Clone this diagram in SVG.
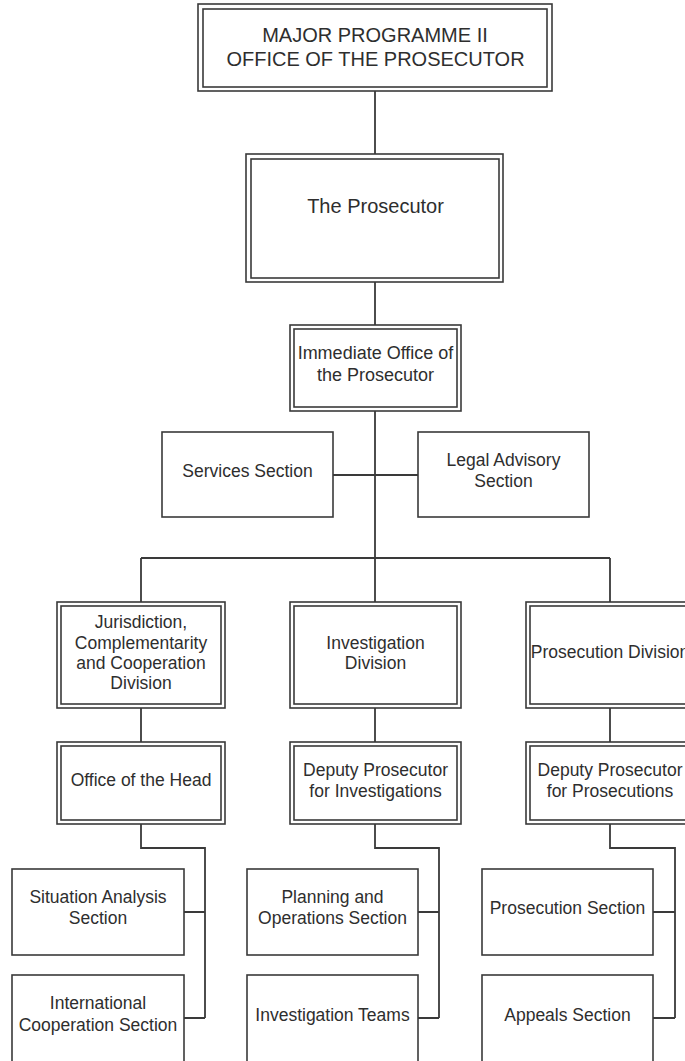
<svg xmlns="http://www.w3.org/2000/svg" width="685" height="1061" viewBox="0 0 685 1061">
<style>
.b{fill:#fff;stroke:#3a3a3a;stroke-width:1.6}
.c{fill:none;stroke:#3a3a3a;stroke-width:1.8}
text{font-family:"Liberation Sans",Arial,sans-serif;fill:#2e2e2e;text-anchor:middle;font-size:17.5px}
.t{font-size:20px}
</style>
<rect width="685" height="1061" fill="#fff"/>
<g id="connectors" class="c">
<path d="M375 91V154M375 282V325M375 411V602M333 475H418M141 558H610M141 558V602M610 558V602"/>
<path d="M141 708V742M375 708V742M610 708V742"/>
<path d="M141 824V848H205V1018M184 912H205M184 1018H205"/>
<path d="M375 824V848H439V1018M418 912H439M418 1018H439"/>
<path d="M610 824V848H675V1018M653 912H675M653 1018H675"/>
</g>
<g id="n-major">
<rect class="b" x="198" y="4" width="354" height="87"/>
<rect class="b" x="203" y="9" width="344" height="78"/>
<text class="t" x="375" y="42">MAJOR PROGRAMME II</text>
<text class="t" x="375.5" y="66">OFFICE OF THE PROSECUTOR</text>
</g>
<g id="n-prosecutor">
<rect class="b" x="246" y="154" width="257" height="128"/>
<rect class="b" x="251" y="159" width="248" height="119"/>
<text class="t" x="375.5" y="213">The Prosecutor</text>
</g>
<g id="n-immediate">
<rect class="b" x="290" y="325" width="171" height="86"/>
<rect class="b" x="294" y="329" width="163" height="78"/>
<text x="375.5" y="359" style="font-size:18px">Immediate Office of</text>
<text x="375.5" y="381" style="font-size:18px">the Prosecutor</text>
</g>
<g id="n-services">
<rect class="b" x="162" y="432" width="171" height="85"/>
<text x="247.5" y="477">Services Section</text>
</g>
<g id="n-legal">
<rect class="b" x="418" y="432" width="171" height="85"/>
<text x="503.5" y="466">Legal Advisory</text>
<text x="503.5" y="487">Section</text>
</g>
<g id="n-jcc">
<rect class="b" x="57" y="602" width="168" height="106"/>
<rect class="b" x="61" y="606" width="160" height="98"/>
<text x="141" y="628">Jurisdiction,</text>
<text x="141" y="649">Complementarity</text>
<text x="141" y="669">and Cooperation</text>
<text x="141" y="689">Division</text>
</g>
<g id="n-invdiv">
<rect class="b" x="290" y="602" width="171" height="106"/>
<rect class="b" x="294" y="606" width="163" height="98"/>
<text x="375.5" y="649">Investigation</text>
<text x="375.5" y="669">Division</text>
</g>
<g id="n-prosdiv">
<rect class="b" x="526" y="602" width="171" height="106"/>
<rect class="b" x="530" y="606" width="163" height="98"/>
<text x="610" y="658">Prosecution Division</text>
</g>
<g id="n-head">
<rect class="b" x="57" y="742" width="168" height="82"/>
<rect class="b" x="61" y="746" width="160" height="74"/>
<text x="141" y="786">Office of the Head</text>
</g>
<g id="n-depinv">
<rect class="b" x="290" y="742" width="171" height="82"/>
<rect class="b" x="294" y="746" width="163" height="74"/>
<text x="375.5" y="776">Deputy Prosecutor</text>
<text x="375.5" y="797">for Investigations</text>
</g>
<g id="n-deppros">
<rect class="b" x="526" y="742" width="171" height="82"/>
<rect class="b" x="530" y="746" width="163" height="74"/>
<text x="610" y="776">Deputy Prosecutor</text>
<text x="610" y="797">for Prosecutions</text>
</g>
<g id="n-situation">
<rect class="b" x="12" y="869" width="172" height="86"/>
<text x="98" y="903">Situation Analysis</text>
<text x="98" y="924">Section</text>
</g>
<g id="n-intcoop">
<rect class="b" x="12" y="975" width="172" height="100"/>
<text x="98" y="1009">International</text>
<text x="98" y="1031">Cooperation Section</text>
</g>
<g id="n-planning">
<rect class="b" x="247" y="869" width="171" height="86"/>
<text x="332.5" y="903">Planning and</text>
<text x="332.5" y="924">Operations Section</text>
</g>
<g id="n-teams">
<rect class="b" x="247" y="975" width="171" height="100"/>
<text x="332.5" y="1021">Investigation Teams</text>
</g>
<g id="n-prossec">
<rect class="b" x="482" y="869" width="171" height="86"/>
<text x="567.5" y="914">Prosecution Section</text>
</g>
<g id="n-appeals">
<rect class="b" x="482" y="975" width="171" height="100"/>
<text x="567.5" y="1021">Appeals Section</text>
</g>
</svg>
